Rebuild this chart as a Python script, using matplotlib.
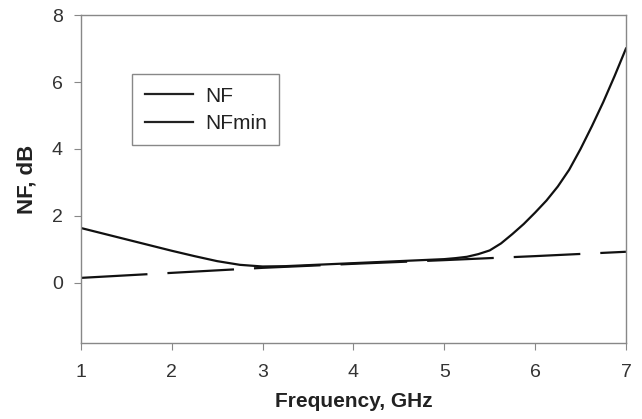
import numpy as np
import matplotlib
matplotlib.rc('font', family='Liberation Sans', size=14)
import matplotlib.pyplot as plt
from matplotlib.lines import Line2D

# frequency grid, GHz
freq_nf = [1, 1.25, 1.5, 1.75, 2, 2.25, 2.5, 2.75, 3, 3.25, 3.5, 3.75, 4, 4.25,
           4.5, 4.75, 5, 5.125, 5.25, 5.375, 5.5, 5.625, 5.75, 5.875, 6, 6.125,
           6.25, 6.375, 6.5, 6.625, 6.75, 6.875, 7]
nf = [1.64, 1.47, 1.30, 1.13, 0.96, 0.80, 0.65, 0.54, 0.49, 0.50, 0.53, 0.56, 0.59, 0.62,
      0.65, 0.68, 0.71, 0.74, 0.78, 0.86, 0.97, 1.18, 1.46, 1.76, 2.10, 2.46,
      2.88, 3.38, 4.00, 4.68, 5.40, 6.18, 7.00]

freq_min = [1, 2, 3, 4, 5, 6, 7]
nf_min = [0.15, 0.30, 0.45, 0.57, 0.68, 0.80, 0.93]

xticks = [1, 2, 3, 4, 5, 6, 7]
yticks = [0, 2, 4, 6, 8]

fig = plt.figure(figsize=(6.42, 4.19), dpi=100)
ax = fig.add_axes([0.126, 0.181, 0.849, 0.783])

ax.plot(freq_nf, nf, '-', color='#111111', linewidth=1.6)
ax.plot(freq_min, nf_min, color='#111111', linewidth=1.6, dashes=(30, 9))

ax.set_xlim(1, 7)
ax.set_ylim(-1.8, 8)
ax.set_xticks(xticks)
ax.set_yticks(yticks)

for s in ax.spines.values():
    s.set_color('#888888')
    s.set_linewidth(1.0)
ax.tick_params(direction='out', length=5, color='#888888', labelcolor='#333333')
ax.tick_params(axis='x', pad=10)
ax.tick_params(axis='y', pad=8)

ax.set_xlabel('Frequency, GHz', fontweight='bold', color='#222222', fontsize=15, labelpad=8)
ax.set_ylabel('NF, dB', fontweight='bold', color='#222222', fontsize=16, labelpad=10)

# legend in the original shows both entries as solid lines
handles = [Line2D([], [], color='#222222', linewidth=1.6),
           Line2D([], [], color='#222222', linewidth=1.6)]
leg = ax.legend(handles, ['NF', 'NFmin'], loc='upper left', bbox_to_anchor=(0.094, 0.82),
                borderaxespad=0, fancybox=False, edgecolor='#888888', framealpha=1,
                handlelength=2.3, handletextpad=0.6, borderpad=0.6, labelspacing=0.4,
                fontsize=15)
leg.get_frame().set_linewidth(1.0)
for t in leg.get_texts():
    t.set_color('#222222')

fig.savefig('out.png', dpi=100)
